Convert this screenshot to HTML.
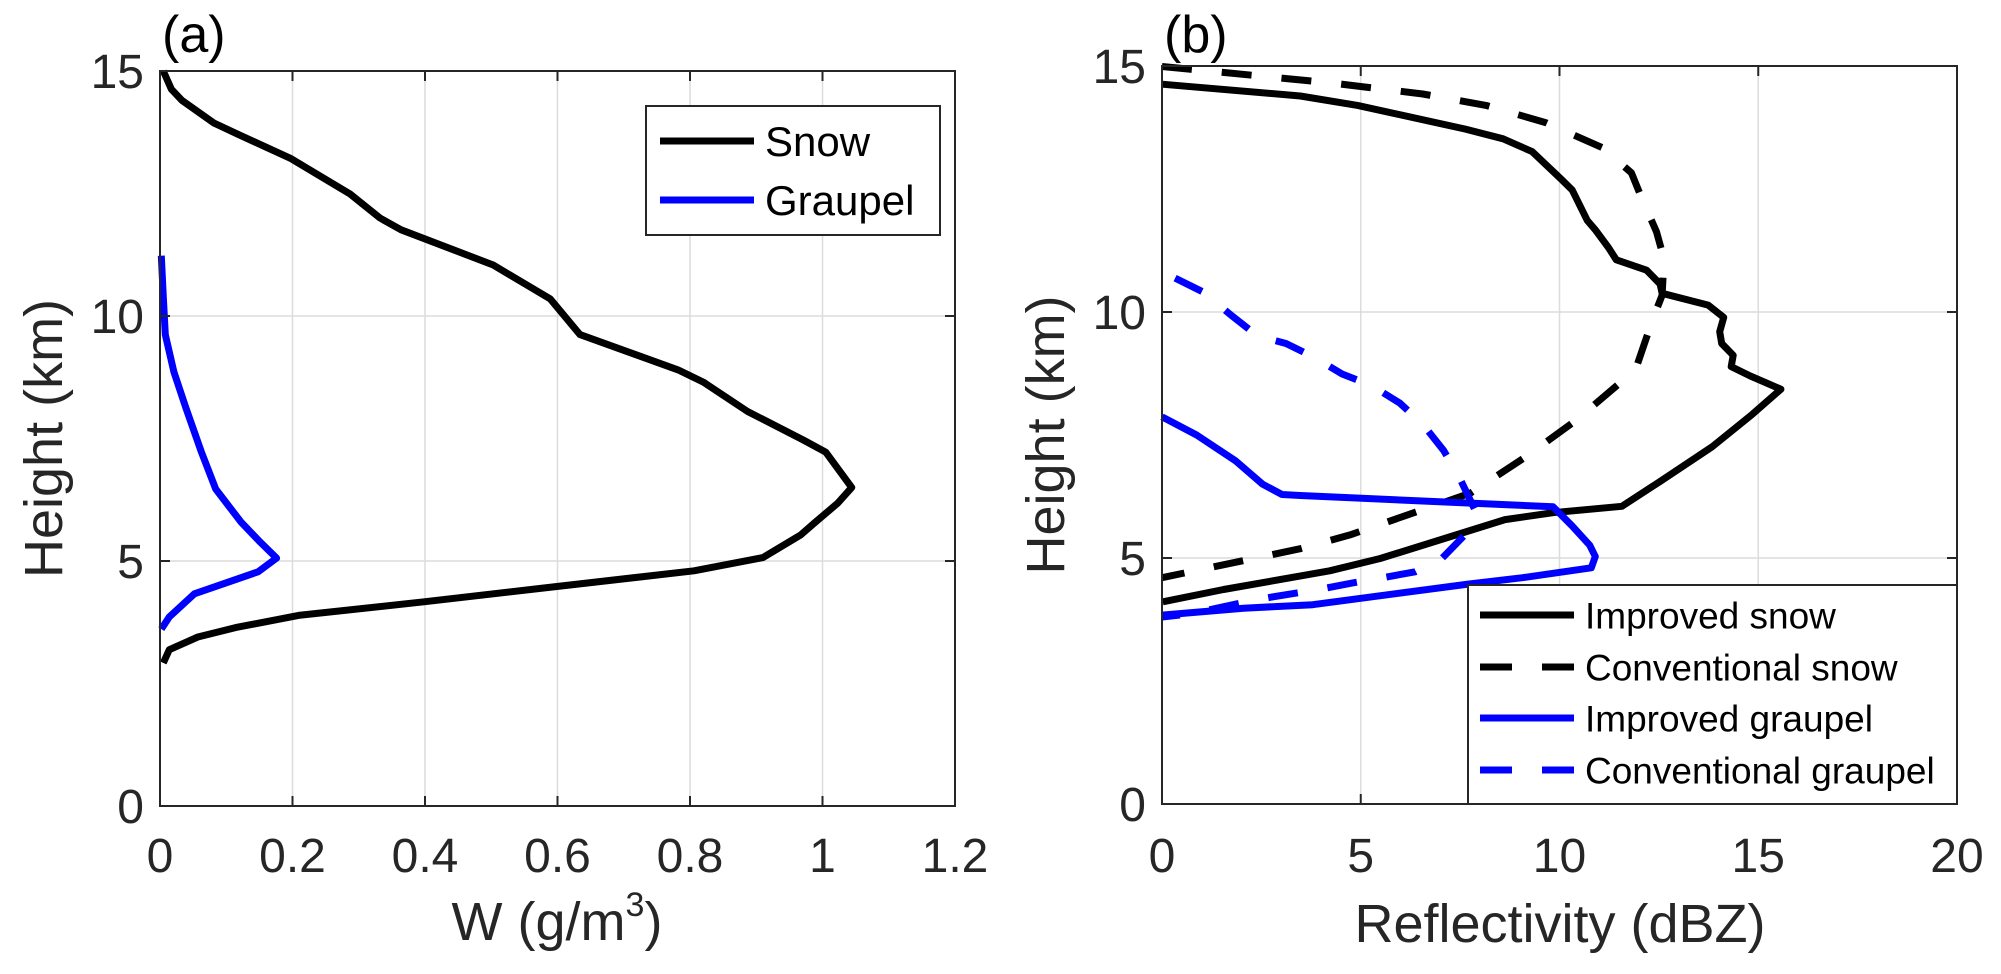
<!DOCTYPE html>
<html><head><meta charset="utf-8"><style>
html,body{margin:0;padding:0;background:#fff;}
svg{display:block;font-family:"Liberation Sans",Arial,sans-serif;}
</style></head><body>
<svg id="fig" width="2001" height="974" viewBox="0 0 2001 974" xmlns="http://www.w3.org/2000/svg"></svg>
<script>
// ---- Panel (a) data ----
const snowW = [0.005,0.017,0.033,0.081,0.119,0.198,0.287,0.332,0.364,0.503,0.589,0.634,0.782,0.82,0.887,0.971,1.005,1.044,1.023,0.988,0.967,0.91,0.806,0.599,0.4,0.209,0.114,0.057,0.014,0.005];
const snowH = [15.0,14.63,14.4,13.94,13.7,13.21,12.49,12.0,11.76,11.04,10.35,9.62,8.9,8.65,8.05,7.47,7.22,6.5,6.18,5.78,5.53,5.07,4.8,4.48,4.17,3.89,3.64,3.45,3.19,2.92];
const graupelW = [0.002,0.005,0.008,0.021,0.039,0.062,0.084,0.122,0.151,0.176,0.148,0.052,0.014,0.002];
const graupelH = [11.23,10.39,9.62,8.86,8.13,7.24,6.47,5.8,5.39,5.06,4.78,4.33,3.86,3.61];
const xTicksA = [0,0.2,0.4,0.6,0.8,1,1.2];
const yTicks = [0,5,10,15];
// ---- Panel (b) data ----
const impSnowZ = [0,3.48,4.92,7.62,8.58,9.31,10.03,10.32,10.7,10.9,11.23,11.43,12.19,12.53,12.58,13.74,14.13,14.03,14.08,14.37,14.32,14.8,15.57,14.85,13.84,12.54,11.57,9.84,8.63,7.52,5.49,4.22,1.55,0.02];
const impSnowH = [14.63,14.39,14.2,13.72,13.52,13.26,12.71,12.48,11.86,11.67,11.31,11.06,10.85,10.57,10.38,10.14,9.89,9.6,9.36,9.12,8.89,8.7,8.43,7.92,7.26,6.56,6.05,5.92,5.78,5.5,4.99,4.74,4.36,4.11];
const conSnowZ = [0,4.2,6.56,8.15,9.65,11.08,11.81,12.06,12.44,12.63,12.58,12.34,11.96,11.67,10.42,9.16,7.76,6.66,4.73,3.48,0];
const conSnowH = [14.99,14.66,14.43,14.2,13.85,13.34,12.83,12.33,11.63,11.08,10.34,9.84,8.94,8.66,7.8,7.06,6.32,6.01,5.47,5.19,4.6];
const impGrZ = [0,0.87,1.86,2.53,3.02,3.48,9.84,10.32,10.76,10.9,10.8,9.07,7.7,3.79,2.05,0];
const impGrH = [7.87,7.5,6.97,6.5,6.29,6.27,6.04,5.65,5.26,5.03,4.8,4.6,4.47,4.05,3.98,3.84];
const conGrZ = [0.33,1.05,1.76,2.39,3.12,3.83,4.53,5.26,5.98,6.56,7.09,7.48,7.86,7.62,7.04,6.37,5.55,4.78,3.93,2.34,0.76,0];
const conGrH = [10.69,10.4,9.92,9.52,9.36,9.08,8.74,8.51,8.15,7.72,7.18,6.64,6.0,5.47,4.99,4.72,4.6,4.49,4.36,4.15,3.87,3.8];
const xTicksB = [0,5,10,15,20];

const NS="http://www.w3.org/2000/svg";
const svg=document.getElementById('fig');
function mk(tag,attrs,parent){const e=document.createElementNS(NS,tag);for(const k in attrs)e.setAttribute(k,attrs[k]);(parent||svg).appendChild(e);return e;}

function panel(o){
  const sx=v=>o.x0+(v-o.xmin)/(o.xmax-o.xmin)*(o.x1-o.x0);
  const sy=v=>o.y0-(v-0)/15*(o.y0-o.y1);
  const g=mk('g',{});
  
  
  o.xt.forEach(t=>{const l=mk('line',{x1:sx(t),x2:sx(t),y1:o.y0,y2:o.y1,stroke:'#dcdcdc','stroke-width':1.5},g);
    });
  yTicks.forEach(t=>{const l=mk('line',{x1:o.x0,x2:o.x1,y1:sy(t),y2:sy(t),stroke:'#dcdcdc','stroke-width':1.5},g);
    });
  o.series.forEach(s=>{
    const pts=s.x.map((v,i)=>sx(v).toFixed(1)+','+sy(s.y[i]).toFixed(1)).join(' ');
    const p=mk('polyline',{points:pts,fill:'none',stroke:s.c,'stroke-width':7,'stroke-linejoin':'round','stroke-dasharray':s.d||'none'},g);
    
    
  });
  const b=mk('rect',{x:o.x0,y:o.y1,width:o.x1-o.x0,height:o.y0-o.y1,fill:'none',stroke:'#262626','stroke-width':2},g);
  
  o.xt.forEach((t,i)=>{
    mk('line',{x1:sx(t),x2:sx(t),y1:o.y0,y2:o.y0-10,stroke:'#262626','stroke-width':2},g);
    mk('line',{x1:sx(t),x2:sx(t),y1:o.y1,y2:o.y1+10,stroke:'#262626','stroke-width':2},g);
    const tx=mk('text',{x:sx(t),y:872,'font-size':48,'text-anchor':'middle',fill:'#262626'},g);
    tx.textContent=String(t);
    
  });
  yTicks.forEach(t=>{
    mk('line',{x1:o.x0,x2:o.x0+10,y1:sy(t),y2:sy(t),stroke:'#262626','stroke-width':2},g);
    mk('line',{x1:o.x1,x2:o.x1-10,y1:sy(t),y2:sy(t),stroke:'#262626','stroke-width':2},g);
    const tx=mk('text',{x:o.x0-16,y:sy(t)+17,'font-size':48,'text-anchor':'end',fill:'#262626'},g);
    tx.textContent=String(t);
    
  });
  const yl=mk('text',{x:0,y:0,'font-size':54,'text-anchor':'middle',fill:'#262626',transform:`translate(${o.ylx},${(o.y0+o.y1)/2}) rotate(-90)`},g);
  yl.textContent='Height (km)';
  
  const pl=mk('text',{x:o.x0+2,y:52,'font-size':52,fill:'#000'},g);
  pl.textContent=o.tag;
  
  return {sx,sy,g};
}

const A=panel({name:'panel-a',x0:160,x1:955,y0:806,y1:71,xmin:0,xmax:1.2,xt:xTicksA,ylx:62,tag:'(a)',
  series:[{x:snowW,y:snowH,c:'#000',n:'snow-line'},{x:graupelW,y:graupelH,c:'#0000ff',n:'graupel-line'}]});
const xa=mk('text',{x:557,y:940,'font-size':54,'text-anchor':'middle',fill:'#262626'});
xa.innerHTML='W (g/m<tspan font-size="34" dy="-24">3</tspan><tspan dy="24">)</tspan>';



const B=panel({name:'panel-b',x0:1162,x1:1957,y0:804,y1:66,xmin:0,xmax:20,xt:xTicksB,ylx:1064,tag:'(b)',
  series:[{x:impSnowZ,y:impSnowH,c:'#000',n:'improved-snow-line'},{x:conSnowZ,y:conSnowH,c:'#000',d:'30 30',n:'conventional-snow-line'},
          {x:impGrZ,y:impGrH,c:'#0000ff',n:'improved-graupel-line'},{x:conGrZ,y:conGrH,c:'#0000ff',d:'30 30',n:'conventional-graupel-line'}]});
const xb=mk('text',{x:1560,y:942,'font-size':54,'text-anchor':'middle',fill:'#262626'});
xb.textContent='Reflectivity (dBZ)';



function legend(name,x,y,w,h,items,lx0,lx1,tx,fs){
  const g=mk('g',{});
  
  
  mk('rect',{x:x,y:y,width:w,height:h,fill:'#fff',stroke:'#262626','stroke-width':2},g);
  items.forEach(it=>{
    const l=mk('line',{x1:lx0,x2:lx1,y1:it.y,y2:it.y,stroke:it.c,'stroke-width':7,'stroke-dasharray':it.d||'none'},g);
    
    const t=mk('text',{x:tx,y:it.y+fs*0.36,'font-size':fs,fill:'#000'},g);
    t.textContent=it.t;
    
  });
}
legend('legend-a',646,106,294,129,[{y:141,c:'#000',t:'Snow'},{y:200,c:'#0000ff',t:'Graupel'}],660,754,765,42);
legend('legend-b',1468,585,489,219,[{y:615,c:'#000',t:'Improved snow'},{y:667,c:'#000',d:'32 30',t:'Conventional snow'},
  {y:718,c:'#0000ff',t:'Improved graupel'},{y:770,c:'#0000ff',d:'32 30',t:'Conventional graupel'}],1480,1574,1585,37);
</script>
</body></html>
